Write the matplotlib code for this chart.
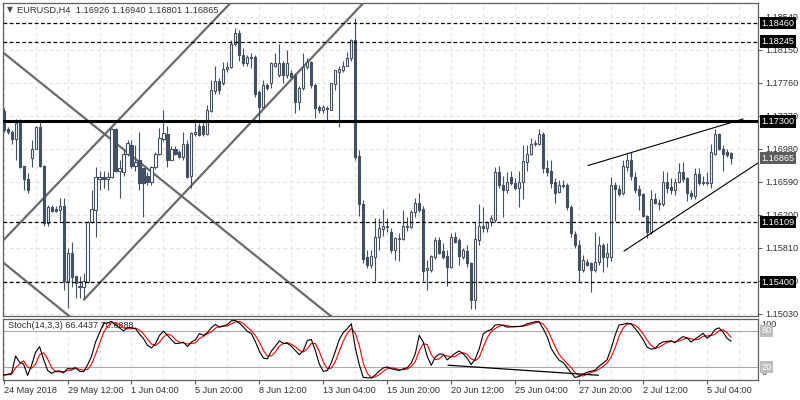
import matplotlib
matplotlib.use('Agg')
import matplotlib.pyplot as plt
from matplotlib.transforms import blended_transform_factory
import numpy as np
import pandas as pd

plt.rcParams['font.family'] = ['Liberation Sans', 'DejaVu Sans']

# EURUSD H4 candles, 24 May 2018 20:00 .. 5 Jul 2018
opens = [
    1.1742, 1.1721, 1.1718, 1.1709, 1.1728, 1.1677, 1.1662, 1.1687, 1.1698, 1.1724,
    1.1678, 1.1610, 1.1629, 1.1627, 1.1626, 1.1630, 1.1542, 1.1575, 1.1547, 1.1536,
    1.1534, 1.1540, 1.1611, 1.1626, 1.1662, 1.1665, 1.1662, 1.1664, 1.1721, 1.1671,
    1.1670, 1.1692, 1.1702, 1.1677, 1.1684, 1.1675, 1.1666, 1.1658, 1.1676, 1.1692,
    1.1709, 1.1715, 1.1685, 1.1697, 1.1694, 1.1688, 1.1704, 1.1666, 1.1715, 1.1725,
    1.1725, 1.1715, 1.1742, 1.1766, 1.1778, 1.1775, 1.1792, 1.1794, 1.1821, 1.1834,
    1.1808, 1.1799, 1.1805, 1.1806, 1.1765, 1.1747, 1.1773, 1.1775, 1.1796, 1.1785,
    1.1799, 1.1785, 1.1787, 1.1785, 1.1753, 1.1769, 1.1794, 1.1800, 1.1773, 1.1747,
    1.1744, 1.1746, 1.1744, 1.1774, 1.1789, 1.1791, 1.1796, 1.1805, 1.1826, 1.1689,
    1.1633, 1.1570, 1.1560, 1.1570, 1.1593, 1.1603, 1.1605, 1.1599, 1.1578, 1.1591,
    1.1591, 1.1605, 1.1605, 1.1623, 1.1634, 1.1627, 1.1554, 1.1555, 1.1570, 1.1590,
    1.1577, 1.1571, 1.1558, 1.1594, 1.1590, 1.1570, 1.1577, 1.1563, 1.1519, 1.1590,
    1.1607, 1.1604, 1.1611, 1.1614, 1.1670, 1.1655, 1.1649, 1.1664, 1.1657, 1.1652,
    1.1659, 1.1682, 1.1692, 1.1704, 1.1704, 1.1715, 1.1675, 1.1671, 1.1658, 1.1647,
    1.1655, 1.1655, 1.1629, 1.1597, 1.1584, 1.1554, 1.1564, 1.1563, 1.1555, 1.1564,
    1.1584, 1.1570, 1.1570, 1.1655, 1.1650, 1.1645, 1.1676, 1.1684, 1.1665, 1.1650,
    1.1644, 1.1618, 1.1599, 1.1639, 1.1634, 1.1632, 1.1659, 1.1653, 1.1649, 1.1659,
    1.1670, 1.1663, 1.1645, 1.1642, 1.1668, 1.1658, 1.1658, 1.1657, 1.1692, 1.1715,
    1.1698, 1.1694, 1.16926,
]
highs = [
    1.1746, 1.1723, 1.1720, 1.1733, 1.1733, 1.1678, 1.1669, 1.1708, 1.1725, 1.1729,
    1.1679, 1.1631, 1.1631, 1.1630, 1.1640, 1.1640, 1.1581, 1.1588, 1.1548, 1.1548,
    1.1551, 1.1613, 1.1649, 1.1676, 1.1672, 1.1672, 1.1670, 1.1722, 1.1722, 1.1684,
    1.1696, 1.1708, 1.1708, 1.1702, 1.1717, 1.1675, 1.1670, 1.1678, 1.1694, 1.1722,
    1.1744, 1.1725, 1.1701, 1.1701, 1.1696, 1.1717, 1.1708, 1.1717, 1.1733, 1.1728,
    1.1730, 1.1749, 1.1779, 1.1796, 1.1781, 1.1800, 1.1800, 1.1826, 1.1840, 1.1838,
    1.1817, 1.1808, 1.1811, 1.1808, 1.1767, 1.1779, 1.1775, 1.1800, 1.1811, 1.1821,
    1.1802, 1.1814, 1.1791, 1.1787, 1.1772, 1.1811, 1.1805, 1.1802, 1.1775, 1.1750,
    1.1750, 1.1748, 1.1776, 1.1791, 1.1795, 1.1802, 1.1812, 1.1828, 1.1852, 1.1696,
    1.1637, 1.1578, 1.1578, 1.1616, 1.1616, 1.1627, 1.1616, 1.1604, 1.1594, 1.1598,
    1.1625, 1.1617, 1.1626, 1.1640, 1.1645, 1.1630, 1.1566, 1.1572, 1.1594, 1.1593,
    1.1587, 1.1578, 1.1598, 1.1599, 1.1592, 1.1580, 1.1584, 1.1564, 1.1611, 1.1633,
    1.1629, 1.1613, 1.1620, 1.1676, 1.1678, 1.1666, 1.1670, 1.1672, 1.1663, 1.1672,
    1.1702, 1.1702, 1.1711, 1.1708, 1.1721, 1.1717, 1.1684, 1.1684, 1.1663, 1.1661,
    1.1661, 1.1657, 1.1631, 1.1601, 1.1590, 1.1572, 1.1568, 1.1564, 1.1599, 1.1595,
    1.1587, 1.1587, 1.1664, 1.1658, 1.1655, 1.1684, 1.1692, 1.1694, 1.1670, 1.1655,
    1.1646, 1.1620, 1.1649, 1.1645, 1.1639, 1.1672, 1.1670, 1.1663, 1.1663, 1.1681,
    1.1682, 1.1665, 1.1649, 1.1675, 1.1675, 1.1666, 1.1670, 1.1704, 1.1721, 1.1716,
    1.1702, 1.1697, 1.16940,
]
lows = [
    1.1718, 1.1715, 1.1704, 1.1684, 1.1675, 1.1649, 1.1645, 1.1676, 1.1697, 1.1676,
    1.1607, 1.1607, 1.1623, 1.1623, 1.1613, 1.1531, 1.1510, 1.1534, 1.1521, 1.1522,
    1.1519, 1.1539, 1.1610, 1.1593, 1.1649, 1.1652, 1.1649, 1.1663, 1.1670, 1.1640,
    1.1666, 1.1689, 1.1675, 1.1672, 1.1649, 1.1617, 1.1655, 1.1655, 1.1674, 1.1690,
    1.1707, 1.1676, 1.1684, 1.1690, 1.1687, 1.1685, 1.1663, 1.1652, 1.1713, 1.1713,
    1.1713, 1.1714, 1.1741, 1.1763, 1.1763, 1.1773, 1.1788, 1.1793, 1.1819, 1.1802,
    1.1795, 1.1796, 1.1793, 1.1759, 1.1728, 1.1746, 1.1767, 1.1770, 1.1794, 1.1782,
    1.1775, 1.1781, 1.1781, 1.1740, 1.1743, 1.1767, 1.1792, 1.1770, 1.1734, 1.1740,
    1.1740, 1.1729, 1.1743, 1.1767, 1.1724, 1.1788, 1.1795, 1.1802, 1.1684, 1.1618,
    1.1563, 1.1557, 1.1557, 1.1542, 1.1578, 1.1595, 1.1599, 1.1575, 1.1566, 1.1565,
    1.1590, 1.1601, 1.1604, 1.1617, 1.1623, 1.1542, 1.1531, 1.1552, 1.1568, 1.1574,
    1.1568, 1.1536, 1.1557, 1.1587, 1.1561, 1.1568, 1.1558, 1.1509, 1.1508, 1.1584,
    1.1599, 1.1599, 1.1606, 1.1611, 1.1652, 1.1617, 1.1645, 1.1655, 1.1649, 1.1629,
    1.1639, 1.1672, 1.1690, 1.1701, 1.1702, 1.1669, 1.1666, 1.1652, 1.1634, 1.1645,
    1.1651, 1.1625, 1.1593, 1.1581, 1.1539, 1.1552, 1.1559, 1.1528, 1.1552, 1.1561,
    1.1552, 1.1558, 1.1565, 1.1613, 1.1642, 1.1643, 1.1672, 1.1661, 1.1646, 1.1625,
    1.1617, 1.1592, 1.1597, 1.1633, 1.1625, 1.1630, 1.1645, 1.1644, 1.1643, 1.1657,
    1.1659, 1.1636, 1.1639, 1.1639, 1.1655, 1.1655, 1.1655, 1.1652, 1.1690, 1.1696,
    1.1672, 1.1688, 1.16801,
]
closes = [
    1.1720, 1.1718, 1.1709, 1.1728, 1.1676, 1.1662, 1.1649, 1.1698, 1.1723, 1.1677,
    1.1610, 1.1629, 1.1624, 1.1624, 1.1630, 1.1542, 1.1575, 1.1546, 1.1539, 1.1534,
    1.1541, 1.1611, 1.1627, 1.1664, 1.1664, 1.1662, 1.1665, 1.1721, 1.1672, 1.1675,
    1.1692, 1.1705, 1.1677, 1.1682, 1.1657, 1.1657, 1.1658, 1.1676, 1.1692, 1.1710,
    1.1716, 1.1685, 1.1698, 1.1692, 1.1688, 1.1704, 1.1665, 1.1716, 1.1717, 1.1714,
    1.1715, 1.1743, 1.1767, 1.1778, 1.1767, 1.1792, 1.1794, 1.1822, 1.1834, 1.1808,
    1.1799, 1.1806, 1.1806, 1.1763, 1.1747, 1.1773, 1.1769, 1.1799, 1.1799, 1.1799,
    1.1785, 1.1799, 1.1782, 1.1753, 1.1769, 1.1794, 1.1800, 1.1773, 1.1746, 1.1744,
    1.1747, 1.1745, 1.1775, 1.1791, 1.1792, 1.1796, 1.1805, 1.1826, 1.1688, 1.1633,
    1.1568, 1.1560, 1.1571, 1.1593, 1.1604, 1.1606, 1.1607, 1.1578, 1.1592, 1.1592,
    1.1606, 1.1606, 1.1623, 1.1634, 1.1626, 1.1553, 1.1557, 1.1571, 1.1590, 1.1575,
    1.1570, 1.1558, 1.1594, 1.1588, 1.1571, 1.1578, 1.1563, 1.1519, 1.1591, 1.1607,
    1.1604, 1.1611, 1.1616, 1.1670, 1.1655, 1.1649, 1.1658, 1.1657, 1.1652, 1.1659,
    1.1683, 1.1692, 1.1704, 1.1705, 1.1715, 1.1675, 1.1670, 1.1657, 1.1646, 1.1655,
    1.1654, 1.1629, 1.1598, 1.1584, 1.1554, 1.1566, 1.1561, 1.1555, 1.1564, 1.1584,
    1.1570, 1.1575, 1.1655, 1.1650, 1.1644, 1.1677, 1.1684, 1.1666, 1.1649, 1.1643,
    1.1618, 1.1599, 1.1639, 1.1634, 1.1633, 1.1659, 1.1652, 1.1649, 1.1659, 1.1670,
    1.1662, 1.1645, 1.1642, 1.1668, 1.1657, 1.1657, 1.1657, 1.1694, 1.1715, 1.1698,
    1.1692, 1.1690, 1.16865,
]

symbol_title = "EURUSD,H4  1.16926 1.16940 1.16801 1.16865"
stoch_title = "Stoch(14,3,3) 66.4437 70.6888"

time_labels = ["24 May 2018", "29 May 12:00", "1 Jun 04:00", "5 Jun 20:00",
               "8 Jun 12:00", "13 Jun 04:00", "15 Jun 20:00", "20 Jun 12:00",
               "25 Jun 04:00", "27 Jun 20:00", "2 Jul 12:00", "5 Jul 04:00"]
price_ticks = [1.15030, 1.15420, 1.15810, 1.16200, 1.16590,
               1.16980, 1.17370, 1.17760, 1.18150, 1.18540]

dashed_levels = [1.18460, 1.18245, 1.16109, 1.15400]
key_level = 1.17300
last_price = 1.16865

# drawn objects: (bar index, price)
channel_lines = [
    [(0, 1.1590), (60, 1.1886)],
    [(20, 1.1519), (92, 1.1880)],
    [(0, 1.1811), (84, 1.1492)],
    [(0, 1.1563), (18, 1.1494)],
]
wedge_lines = [
    [(146.25, 1.1678), (185, 1.1733)],
    [(155.25, 1.1577), (188.75, 1.1681)],
]
stoch_trend = [(111.25, 23.4), (148.75, 7.0)]

CANDLE = '#435061'
GRID = '#e2e2e2'
FS = 6.6

o = np.array(opens)
h = np.array(highs)
l = np.array(lows)
c = np.array(closes)
x = np.arange(len(c))

# Stochastic (14,3,3) from the candles
df = pd.DataFrame({'h': h, 'l': l, 'c': c})
ll = df['l'].rolling(14, min_periods=1).min()
hh = df['h'].rolling(14, min_periods=1).max()
k_line = 100 * (df['c'] - ll).rolling(3, min_periods=1).sum() / (hh - ll).rolling(3, min_periods=1).sum()
d_line = k_line.rolling(3, min_periods=1).mean()

fig = plt.figure(figsize=(8, 4), dpi=100)
ax = fig.add_axes([3 / 800, 84 / 400, 755 / 800, 313 / 400])
ax2 = fig.add_axes([3 / 800, 20.5 / 400, 755 / 800, 61 / 400])

xlim = (-0.15, 188.75)

# ---- main price panel ----
ax.set_xlim(*xlim)
ax.set_ylim(1.15002, 1.18700)
ax.set_axisbelow(True)

ax.vlines(x, l, h, color=CANDLE, linewidth=0.8, zorder=3)
up = c >= o
body = np.maximum(np.abs(c - o), 0.00002)
ax.bar(x, body, bottom=np.minimum(o, c), width=0.52,
       color=np.where(up, 'white', CANDLE), edgecolor=CANDLE,
       linewidth=0.8, zorder=4)

for seg in channel_lines:
    xs, ys = zip(*seg)
    ax.plot(xs, ys, color='#6a6a6a', linewidth=1.6, zorder=2, solid_capstyle='butt')
for seg in wedge_lines:
    xs, ys = zip(*seg)
    ax.plot(xs, ys, color='black', linewidth=0.8, zorder=5)

for lv in dashed_levels:
    ax.axhline(lv, color='black', linewidth=0.9, linestyle=(0, (3, 2)), zorder=5)
ax.axhline(key_level, color='black', linewidth=2.2, zorder=5)

ax.set_xticks(np.arange(0, 189, 8))
ax.tick_params(axis='x', length=0, labelbottom=False)
ax.yaxis.tick_right()
ax.set_yticks(price_ticks)
ax.set_yticklabels([f'{p:.5f}' for p in price_ticks])
ax.tick_params(axis='y', length=3, width=0.8, pad=2, labelsize=FS,
               color='#5f5f5f', labelcolor='#303030')
ax.grid(True, color=GRID, linestyle=(0, (3, 3)), linewidth=0.8)

for sp in ax.spines.values():
    sp.set_color('#5f5f5f')
    sp.set_linewidth(0.9)

trans = blended_transform_factory(ax.transAxes, ax.transData)
for lv in dashed_levels + [key_level]:
    ax.text(1.0045, lv, f'{lv:.5f}', transform=trans, ha='left', va='center',
            fontsize=FS, color='white', clip_on=False, zorder=10,
            bbox=dict(boxstyle='square,pad=0.18', fc='black', ec='none'))
ax.text(1.0045, last_price, f'{last_price:.5f}', transform=trans, ha='left', va='center',
        fontsize=FS, color='white', clip_on=False, zorder=10,
        bbox=dict(boxstyle='square,pad=0.18', fc='#5c5c5c', ec='none'))

fig.text(7 / 800, 1 - 10 / 400, '\u25bc', fontsize=5.5, color='#4a4a4a',
         ha='left', va='center', family=['DejaVu Sans'])
fig.text(17 / 800, 1 - 10 / 400, symbol_title, fontsize=FS + 0.1, color='#303030',
         ha='left', va='center')

# ---- stochastic panel ----
ax2.set_xlim(*xlim)
ax2.set_ylim(0, 100)
ax2.set_axisbelow(True)
ax2.axhline(80, color='#aaaaaa', linewidth=0.8, zorder=1)
ax2.axhline(20, color='#aaaaaa', linewidth=0.8, zorder=1)
ax2.plot(x, k_line, color='black', linewidth=0.8, zorder=4)
ax2.plot(x, d_line, color='#ff0000', linewidth=0.8, zorder=3)
xs, ys = zip(*stoch_trend)
ax2.plot(xs, ys, color='black', linewidth=0.9, zorder=4)

ax2.set_xticks(np.arange(0, 189, 16))
ax2.set_xticklabels(time_labels)
ax2.set_xticks(np.arange(8, 189, 16), minor=True)
for lab in ax2.get_xticklabels():
    lab.set_horizontalalignment('left')
ax2.tick_params(axis='x', which='major', length=3, width=0.8, pad=1.5,
                labelsize=FS, color='#5f5f5f', labelcolor='#303030')
ax2.tick_params(axis='x', which='minor', length=0)
ax2.grid(True, axis='x', which='both', color=GRID, linestyle=(0, (3, 3)), linewidth=0.8)
ax2.set_yticks([])
for sp in ax2.spines.values():
    sp.set_color('#5f5f5f')
    sp.set_linewidth(0.9)

trans2 = blended_transform_factory(ax2.transAxes, ax2.transData)
ax2.text(1.0045, 90, '100', transform=trans2, ha='left', va='center',
         fontsize=FS, color='#303030', clip_on=False)
ax2.text(1.0045, 11, '0', transform=trans2, ha='left', va='center',
         fontsize=FS, color='#303030', clip_on=False)
for lv in [80, 20]:
    ax2.text(1.0045, lv, str(lv), transform=trans2, ha='left', va='center',
             fontsize=FS, color='white', clip_on=False, zorder=10,
             bbox=dict(boxstyle='square,pad=0.15', fc='#bdbdbd', ec='none'))

ax2.text(0.006, 0.88, stoch_title, transform=ax2.transAxes, ha='left', va='center',
         fontsize=FS, color='#303030', zorder=2)

fig.savefig('out.png', dpi=100)
plt.close(fig)
